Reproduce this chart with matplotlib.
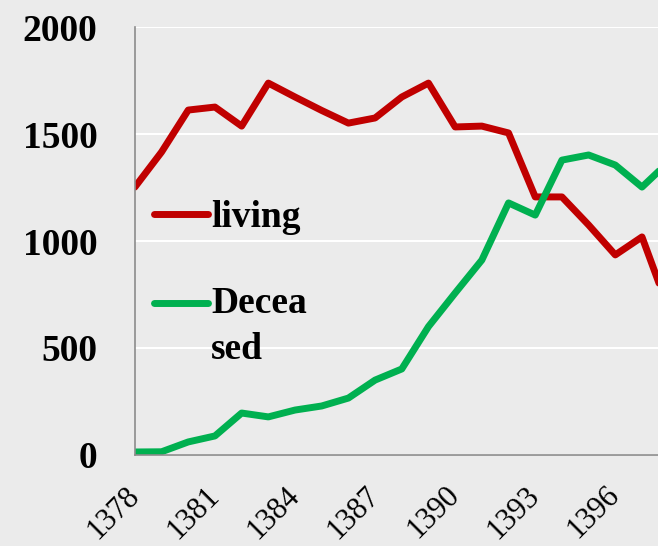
import matplotlib.pyplot as plt
from matplotlib.legend_handler import HandlerLine2D

years = list(range(1378, 1399))
living = [1252, 1416, 1612, 1626, 1537, 1738, 1673, 1610, 1551, 1575, 1673, 1738,
          1533, 1537, 1505, 1206, 1206, 1075, 935, 1019, 680]
deceased = [14, 15, 61, 89, 196, 178, 210, 229, 266, 350, 402, 600,
            757, 911, 1178, 1121, 1378, 1402, 1355, 1252, 1370]
xticks = [1378, 1381, 1384, 1387, 1390, 1393, 1396]
yticks = [0, 500, 1000, 1500, 2000]


class RaisedHandle(HandlerLine2D):
    # put the legend line level with the first line of a wrapped label
    def __init__(self, dy, **kw):
        super().__init__(**kw)
        self.dy = dy

    def create_artists(self, legend, orig_handle, xdescent, ydescent,
                       width, height, fontsize, trans):
        arts = super().create_artists(legend, orig_handle, xdescent, ydescent,
                                      width, height, fontsize, trans)
        for a in arts:
            a.set_ydata(a.get_ydata() + self.dy)
        return arts


plt.rcParams['font.family'] = ['Liberation Serif', 'DejaVu Serif']

fig = plt.figure(figsize=(6.58, 5.46), dpi=100)
fig.patch.set_facecolor('#ebebeb')
ax = fig.add_axes([0.205, 0.1667, 0.795, 0.7838])
ax.set_facecolor('#ebebeb')

l1, = ax.plot(years, living, color='#c00000', lw=5, label='living',
              solid_capstyle='round', solid_joinstyle='round')
l2, = ax.plot(years, deceased, color='#00b050', lw=5, label='Decea\nsed',
              solid_capstyle='round', solid_joinstyle='round')

ax.set_xlim(1378, 1397.6)
ax.set_ylim(0, 2000)
ax.set_yticks(yticks)
ax.set_xticks(xticks)
ax.set_yticklabels([str(v) for v in yticks], fontsize=27, fontweight='bold')
ax.set_xticklabels([str(v) for v in xticks], fontsize=22, rotation=45,
                   ha='right', va='center', rotation_mode='anchor')
ax.tick_params(axis='y', length=0, pad=27)
ax.tick_params(axis='x', length=0, pad=26)
ax.grid(axis='y', color='white', lw=1.5)
ax.set_axisbelow(True)
for s in ['top', 'right']:
    ax.spines[s].set_visible(False)
for s in ['left', 'bottom']:
    ax.spines[s].set_color('#8c8c8c')
    ax.spines[s].set_linewidth(1.2)

leg = ax.legend(loc='upper left', bbox_to_anchor=(0.0, 0.64), frameon=False,
                prop={'size': 27, 'weight': 'bold'}, handlelength=1.45,
                handletextpad=0.08, labelspacing=1.36, borderaxespad=0.1,
                handler_map={l2: RaisedHandle(17)})
for t in leg.get_texts():
    t.set_linespacing(1.43)

fig.savefig('out.png', dpi=100, facecolor=fig.get_facecolor())
